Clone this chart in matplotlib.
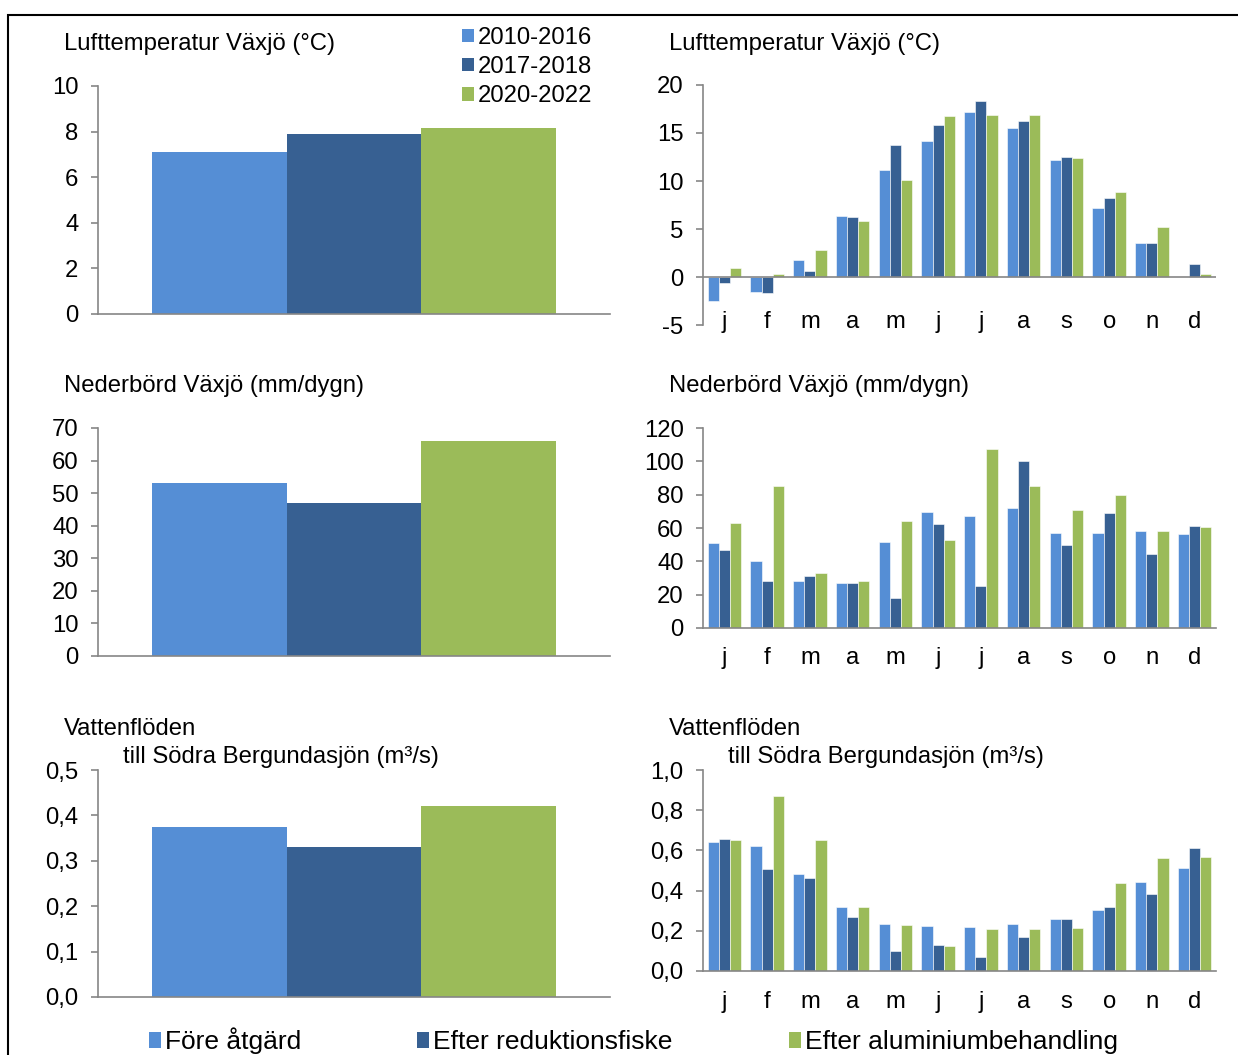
import numpy as np
import matplotlib
matplotlib.use("Agg")
import matplotlib.pyplot as plt
from matplotlib.patches import Patch, Rectangle

plt.rcParams['font.family'] = ['Liberation Sans', 'DejaVu Sans']
FS = 17.2

# period means (before / after fishing / after aluminium)
periods = ["2010-2016", "2017-2018", "2020-2022"]
measures = ["Före åtgärd", "Efter reduktionsfiske", "Efter aluminiumbehandling"]
temp_mean = [7.1, 7.9, 8.15]
prec_mean = [53, 47, 66]
flow_mean = [0.375, 0.33, 0.42]

months = ["j", "f", "m", "a", "m", "j", "j", "a", "s", "o", "n", "d"]
temp_a = [-2.5, -1.6, 1.8, 6.4, 11.1, 14.2, 17.2, 15.5, 12.2, 7.2, 3.5, np.nan]
temp_b = [-0.6, -1.7, 0.6, 6.3, 13.8, 15.8, 18.3, 16.2, 12.5, 8.2, 3.5, 1.4]
temp_c = [0.9, 0.3, 2.8, 5.8, 10.1, 16.8, 16.9, 16.9, 12.4, 8.9, 5.2, 0.3]

prec_a = [51, 40, 28, 27, 51.5, 69.5, 67.5, 72, 57, 57, 58.5, 56.5]
prec_b = [47, 28.5, 31.5, 27, 18, 62.5, 25, 100.5, 50, 69, 44.5, 61.5]
prec_c = [63, 85, 33, 28.5, 64.5, 53, 107.5, 85, 71, 80, 58, 60.5]

flow_a = [0.64, 0.62, 0.485, 0.32, 0.235, 0.222, 0.218, 0.235, 0.257, 0.303, 0.445, 0.512]
flow_b = [0.655, 0.506, 0.465, 0.27, 0.10, 0.131, 0.07, 0.17, 0.261, 0.318, 0.385, 0.612]
flow_c = [0.651, 0.871, 0.651, 0.317, 0.231, 0.125, 0.211, 0.208, 0.213, 0.44, 0.563, 0.566]

temp_ticks = [0, 2, 4, 6, 8, 10]
prec_ticks = [0, 10, 20, 30, 40, 50, 60, 70]
flow_ticks = [0, 0.1, 0.2, 0.3, 0.4, 0.5]
temp_m_ticks = [-5, 0, 5, 10, 15, 20]
prec_m_ticks = [0, 20, 40, 60, 80, 100, 120]
flow_m_ticks = [0, 0.2, 0.4, 0.6, 0.8, 1.0]

colors = ["#558ED5", "#376092", "#9BBB59"]
grey = "#868686"

W, H = 1238, 1055
fig = plt.figure(figsize=(W / 100, H / 100), dpi=100)

# outer frame
fig.patches.append(Rectangle((8 / W, -0.01), 1.0, 1 - 15 / H + 0.01,
                             transform=fig.transFigure, fill=False,
                             edgecolor="black", linewidth=1.5))


def box(x0, y_top, x1, y_bot):
    return [x0 / W, 1 - y_bot / H, (x1 - x0) / W, (y_bot - y_top) / H]


def style(ax, ticks, ylim, fmt):
    for s in ("top", "right"):
        ax.spines[s].set_visible(False)
    ax.spines["left"].set_color(grey)
    ax.spines["bottom"].set_color(grey)
    ax.spines["left"].set_linewidth(1.2)
    ax.spines["bottom"].set_linewidth(1.2)
    ax.set_ylim(*ylim)
    ax.set_yticks(ticks)
    ax.set_yticklabels([fmt(t) for t in ticks])
    ax.tick_params(axis="y", length=5, width=1.2, color=grey, pad=9,
                   labelsize=FS)
    ax.tick_params(axis="x", length=0, labelsize=FS)


def comma(t):
    return f"{t:.1f}".replace(".", ",")


def whole(t):
    return f"{t:g}"


def mean_panel(rect, vals, ticks, fmt):
    ax = fig.add_axes(rect)
    ax.bar([-1, 0, 1], vals, width=1.0, color=colors, edgecolor="none")
    ax.set_xlim(-1.9, 1.9)
    ax.set_xticks([])
    style(ax, ticks, (ticks[0], ticks[-1]), fmt)
    return ax


def month_panel(rect, a, b, c, ticks, fmt, pad):
    ax = fig.add_axes(rect)
    x = np.arange(12)
    w = 0.26
    for off, vals, col in zip((-w, 0, w), (a, b, c), colors):
        ax.bar(x + off, vals, width=w, color=col, edgecolor="white",
               linewidth=0.4)
    ax.set_xlim(-0.5, 11.5)
    style(ax, ticks, (ticks[0], ticks[-1]), fmt)
    ax.set_xticks(x)
    ax.set_xticklabels(months)
    ax.tick_params(axis="x", pad=pad)
    return ax


# left column: period means
mean_panel(box(98, 86, 610, 314), temp_mean, temp_ticks, whole)
mean_panel(box(98, 428, 610, 656), prec_mean, prec_ticks, whole)
mean_panel(box(98, 770, 610, 997), flow_mean, flow_ticks, comma)

# right column: monthly values
ax_t = month_panel(box(703, 85, 1216, 325), temp_a, temp_b, temp_c,
                   temp_m_ticks, whole, -10)
ax_t.spines["bottom"].set_visible(False)
ax_t.axhline(0, color=grey, linewidth=1.2)
month_panel(box(703, 428, 1216, 628), prec_a, prec_b, prec_c,
            prec_m_ticks, whole, 13.5)
month_panel(box(703, 770, 1216, 971), flow_a, flow_b, flow_c,
            flow_m_ticks, comma, 14.5)

# panel titles
for x0 in (64, 669):
    fig.text(x0 / W, 1 - 44 / H, "Lufttemperatur Växjö (°C)",
             fontsize=FS, va="center")
    fig.text(x0 / W, 1 - 386 / H, "Nederbörd Växjö (mm/dygn)",
             fontsize=FS, va="center")
    fig.text(x0 / W, 1 - 729 / H, "Vattenflöden", fontsize=FS, va="center")
    fig.text((x0 + 59) / W, 1 - 757 / H, "till Södra Bergundasjön (m³/s)",
             fontsize=FS, va="center")

# legends
handles = [Patch(facecolor=c, edgecolor="none") for c in colors]
fig.legend(handles, periods, loc="upper left",
           bbox_to_anchor=(450 / W, 1 - 15 / H), frameon=False,
           fontsize=FS, handlelength=0.5, handleheight=0.5,
           handletextpad=0.15, labelspacing=0.3, borderpad=0)
fig.legend(handles, measures, loc="center left", ncol=3,
           bbox_to_anchor=(136 / W, 1 - 1041 / H), frameon=False,
           fontsize=19.0, handlelength=0.45, handleheight=0.55,
           handletextpad=0.15, columnspacing=4.4, borderpad=0)

fig.savefig("out.png", dpi=100)
